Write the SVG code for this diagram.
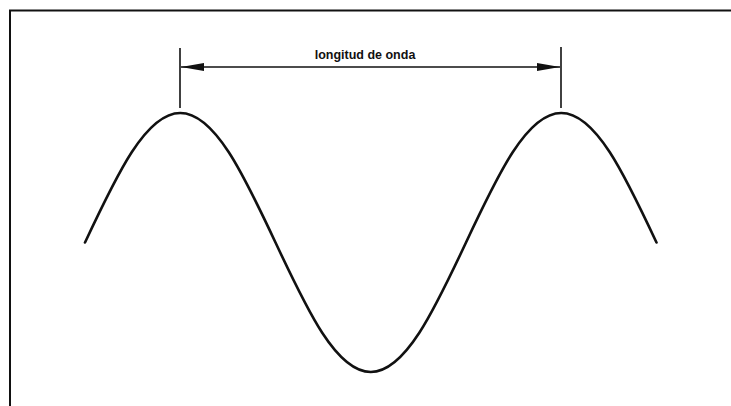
<svg xmlns="http://www.w3.org/2000/svg" width="731" height="406" viewBox="0 0 731 406">
  <style>
    .frame { fill: none; stroke: #111; stroke-width: 2; }
    .line { fill: none; stroke: #111; stroke-width: 1.6; }
    .wave { fill: none; stroke: #111; stroke-width: 2.6; stroke-linecap: round; }
    .label { font-family: "Liberation Sans", Arial, sans-serif; font-size: 12.5px; font-weight: bold; fill: #111; }
  </style>
  <defs>
    <marker id="ah" markerWidth="24" markerHeight="10" refX="23" refY="5" orient="auto-start-reverse" markerUnits="userSpaceOnUse">
      <path d="M0,1 L23,5 L0,9 Z" fill="#111"/>
    </marker>
  </defs>
  <rect width="731" height="406" fill="#fff"/>
  <g id="frame">
    <path class="frame" d="M10,406 V10.5 H731"/>
  </g>
  <g id="wave">
    <path class="wave" d="M85,242.5 C116.84,174.5 145.91,113 180.25,113 C214.59,113 243.66,174.5 275.5,242.5 C307.34,310.5 336.41,372 370.75,372 C405.09,372 434.16,310.5 466,242.5 C497.84,174.5 526.91,113 561.25,113 C595.59,113 624.66,174.5 656.5,242.5"/>
  </g>
  <g id="connectors">
    <line class="line" x1="180" y1="48" x2="180" y2="108"/>
    <line class="line" x1="561" y1="47" x2="561" y2="108"/>
    <line class="line" x1="181" y1="67" x2="560" y2="67" marker-start="url(#ah)" marker-end="url(#ah)"/>
  </g>
  <g id="label">
    <text class="label" x="365" y="59" text-anchor="middle">longitud de onda</text>
  </g>
</svg>
